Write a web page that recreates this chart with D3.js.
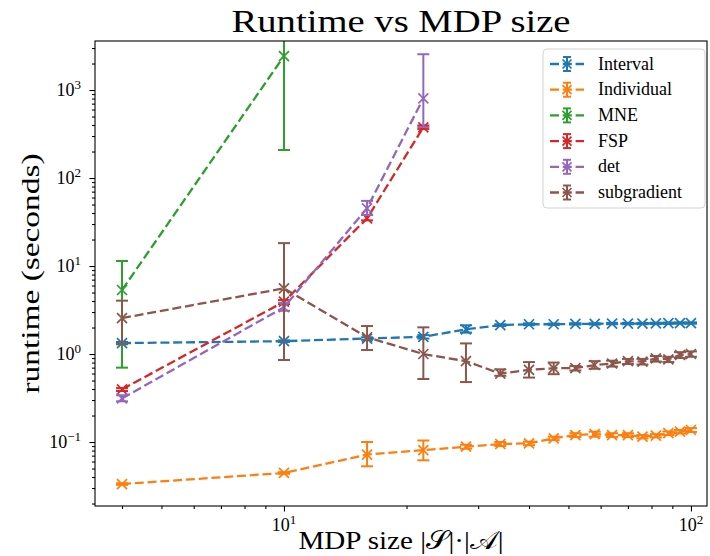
<!DOCTYPE html>
<html><head><meta charset="utf-8">
<script src="https://cdn.jsdelivr.net/npm/d3@7"></script>
<style>
body{margin:0;background:#fff}
svg{display:block}
text{font-family:"Liberation Serif","DejaVu Serif",serif;fill:#000}
</style>
</head><body>
<svg id="chart" width="710" height="556"></svg>
<script>
// ---------------- data ----------------
const sizes = [4,10,16,22,28,34,40,46,52,58,64,70,76,82,88,94,100];

const intervalMean = [1.33,1.40,1.50,1.57,1.91,2.13,2.18,2.18,2.20,2.20,2.22,2.22,2.22,2.23,2.24,2.25,2.25];
const intervalLow  = [1.29,1.37,1.45,1.50,1.75,2.08,2.13,2.14,2.16,2.16,2.18,2.18,2.18,2.19,2.20,2.21,2.21];
const intervalHigh = [1.37,1.43,1.55,1.64,2.12,2.18,2.23,2.22,2.24,2.24,2.26,2.26,2.26,2.27,2.28,2.29,2.29];

const individualMean = [0.0333,0.0445,0.072,0.081,0.0885,0.0949,0.0966,0.110,0.120,0.123,0.120,0.120,0.115,0.118,0.126,0.131,0.137];
const individualLow  = [0.0326,0.0435,0.053,0.062,0.084,0.090,0.092,0.105,0.114,0.115,0.114,0.114,0.110,0.113,0.120,0.125,0.130];
const individualHigh = [0.0340,0.0455,0.100,0.104,0.093,0.100,0.101,0.115,0.126,0.131,0.126,0.126,0.120,0.123,0.132,0.137,0.144];

const mneMean = [5.34,2430];
const mneLow  = [0.70,208];
const mneHigh = [11.4,6000];

const fspMean = [0.397,3.93,34.8,377];
const fspLow  = [0.38,3.70,33,360];
const fspHigh = [0.41,4.10,38,395];

const detMean = [0.313,3.40,45.3,804];
const detLow  = [0.29,3.10,38,380];
const detHigh = [0.34,3.80,55,2550];

const subgradMean = [2.56,5.58,1.55,1.00,0.83,0.60,0.66,0.69,0.69,0.75,0.78,0.83,0.82,0.89,0.87,0.975,1.00];
const subgradLow  = [1.30,0.855,1.11,0.52,0.48,0.566,0.54,0.59,0.65,0.68,0.72,0.77,0.76,0.82,0.81,0.90,0.93];
const subgradHigh = [4.04,18.2,2.08,2.01,1.32,0.67,0.81,0.80,0.73,0.83,0.84,0.88,0.88,0.95,0.93,1.05,1.07];

const seriesNames  = ["Interval","Individual","MNE","FSP","det","subgradient"];
const seriesColors = ["#1f77b4","#ff7f0e","#2ca02c","#d62728","#9467bd","#8c564b"];

const xMajorTicks = [10,100];
const xTickExps   = ["1","2"];
const yMajorTicks = [0.1,1,10,100,1000];
const yTickExps   = ["\u22121","0","1","2","3"];

const titleText = "Runtime vs MDP size";
const xLabelText = "MDP size |\uD835\uDCAE|\u00B7|\uD835\uDC9C|";
const yLabelText = "runtime (seconds)";

// ---------------- layout ----------------
const L = 95, R = 707, T = 41, B = 506;
const svg = d3.select("#chart");

const x = d3.scaleLog().domain([3.433,109.5]).range([L,R]);
const y = d3.scaleLog().domain([0.01875,3606]).range([B,T]);

const series = [
  {mean:intervalMean,low:intervalLow,high:intervalHigh},
  {mean:individualMean,low:individualLow,high:individualHigh},
  {mean:mneMean,low:mneLow,high:mneHigh},
  {mean:fspMean,low:fspLow,high:fspHigh},
  {mean:detMean,low:detLow,high:detHigh},
  {mean:subgradMean,low:subgradLow,high:subgradHigh}
].map((s,i)=>({...s,name:seriesNames[i],color:seriesColors[i],
  pts:s.mean.map((m,j)=>({x:sizes[j],m,lo:s.low[j],hi:s.high[j]}))}));

svg.append("defs").append("clipPath").attr("id","clip")
  .append("rect").attr("x",L).attr("y",T).attr("width",R-L).attr("height",B-T);

function minorTicks(domain){
  const out=[];
  const a=Math.floor(Math.log10(domain[0])), b=Math.ceil(Math.log10(domain[1]));
  for(let e=a;e<=b;e++) for(let k=2;k<=9;k++){const v=k*Math.pow(10,e); if(v>=domain[0]&&v<=domain[1]) out.push(v);}
  return out;
}

const xAxisMinor = d3.axisBottom(x).tickValues(minorTicks(x.domain())).tickSize(3).tickFormat("");
const xAxisMajor = d3.axisBottom(x).tickValues(xMajorTicks).tickSize(5.5).tickFormat("");
const yAxisMinor = d3.axisLeft(y).tickValues(minorTicks(y.domain())).tickSize(3).tickFormat("");
const yAxisMajor = d3.axisLeft(y).tickValues(yMajorTicks).tickSize(5.5).tickFormat("");

function styleAxis(g){ g.select(".domain").remove(); g.selectAll(".tick line").attr("stroke","#000").attr("stroke-width",1.1); }
svg.append("g").attr("transform",`translate(0,${B})`).call(xAxisMinor).call(styleAxis);
svg.append("g").attr("transform",`translate(0,${B})`).call(xAxisMajor).call(styleAxis);
svg.append("g").attr("transform",`translate(${L},0)`).call(yAxisMinor).call(styleAxis);
svg.append("g").attr("transform",`translate(${L},0)`).call(yAxisMajor).call(styleAxis);

xMajorTicks.forEach((v,i)=>{
  const t = svg.append("text").attr("x",x(v)).attr("y",531).attr("text-anchor","middle").attr("font-size",18);
  t.append("tspan").text("10");
  t.append("tspan").attr("dy",-7).attr("font-size",13).text(xTickExps[i]);
});
yMajorTicks.forEach((v,i)=>{
  const t = svg.append("text").attr("x",81).attr("y",y(v)+6).attr("text-anchor","end").attr("font-size",18);
  t.append("tspan").text("10");
  t.append("tspan").attr("dy",-7).attr("font-size",13).text(yTickExps[i]);
});

const plot = svg.append("g").attr("clip-path","url(#clip)");
const line = d3.line().x(d=>x(d.x)).y(d=>y(d.m));
const ms = 5, cap = 6;
series.forEach(s=>{
  const g = plot.append("g");
  g.append("path").datum(s.pts).attr("d",line).attr("fill","none")
    .attr("stroke",s.color).attr("stroke-width",2.3).attr("stroke-dasharray","9,3.8");
  g.selectAll(".mk").data(s.pts).enter().append("path")
    .attr("d",d=>{const cx=x(d.x),cy=y(d.m);return `M${cx-ms},${cy-ms}L${cx+ms},${cy+ms}M${cx-ms},${cy+ms}L${cx+ms},${cy-ms}`;})
    .attr("stroke",s.color).attr("stroke-width",1.7).attr("fill","none");
  g.selectAll(".eb").data(s.pts).enter().append("line")
    .attr("x1",d=>x(d.x)).attr("x2",d=>x(d.x)).attr("y1",d=>y(d.lo)).attr("y2",d=>y(d.hi))
    .attr("stroke",s.color).attr("stroke-width",2);
  ["lo","hi"].forEach(k=>{
    g.selectAll(".cap"+k).data(s.pts).enter().append("line")
      .attr("x1",d=>x(d.x)-cap).attr("x2",d=>x(d.x)+cap).attr("y1",d=>y(d[k])).attr("y2",d=>y(d[k]))
      .attr("stroke",s.color).attr("stroke-width",2);
  });
});

svg.append("rect").attr("x",L).attr("y",T).attr("width",R-L).attr("height",B-T)
  .attr("fill","none").attr("stroke","#000").attr("stroke-width",1.1);

const lg = svg.append("g");
lg.append("rect").attr("x",543).attr("y",49).attr("width",162).attr("height",159).attr("rx",4)
  .attr("fill","#fff").attr("fill-opacity",0.8).attr("stroke","#d3d3d3").attr("stroke-width",1);
series.forEach((s,i)=>{
  const cy = 64 + i*25.7, cx = 567;
  const g = lg.append("g");
  g.append("line").attr("x1",550).attr("x2",584).attr("y1",cy).attr("y2",cy)
    .attr("stroke",s.color).attr("stroke-width",2.3).attr("stroke-dasharray","9,3.8");
  g.append("path").attr("d",`M${cx-4.5},${cy-4.5}L${cx+4.5},${cy+4.5}M${cx-4.5},${cy+4.5}L${cx+4.5},${cy-4.5}`)
    .attr("stroke",s.color).attr("stroke-width",1.7);
  g.append("line").attr("x1",cx).attr("x2",cx).attr("y1",cy-7).attr("y2",cy+7).attr("stroke",s.color).attr("stroke-width",2);
  g.append("line").attr("x1",cx-4).attr("x2",cx+4).attr("y1",cy-7).attr("y2",cy-7).attr("stroke",s.color).attr("stroke-width",2);
  g.append("line").attr("x1",cx-4).attr("x2",cx+4).attr("y1",cy+7).attr("y2",cy+7).attr("stroke",s.color).attr("stroke-width",2);
  g.append("text").attr("x",598).attr("y",cy+5.5).attr("font-size",18).text(s.name);
});

svg.append("text").attr("x",(L+R)/2).attr("y",32).attr("text-anchor","middle")
  .attr("font-size",32).attr("textLength",339).attr("lengthAdjust","spacingAndGlyphs").text(titleText);
svg.append("text").attr("x",(L+R)/2).attr("y",549).attr("text-anchor","middle")
  .attr("font-size",26).attr("textLength",205).attr("lengthAdjust","spacingAndGlyphs").text(xLabelText);
svg.append("text").attr("transform",`translate(39,${(T+B)/2}) rotate(-90)`).attr("text-anchor","middle")
  .attr("font-size",25).attr("textLength",240).attr("lengthAdjust","spacingAndGlyphs").text(yLabelText);
</script>
</body></html>
